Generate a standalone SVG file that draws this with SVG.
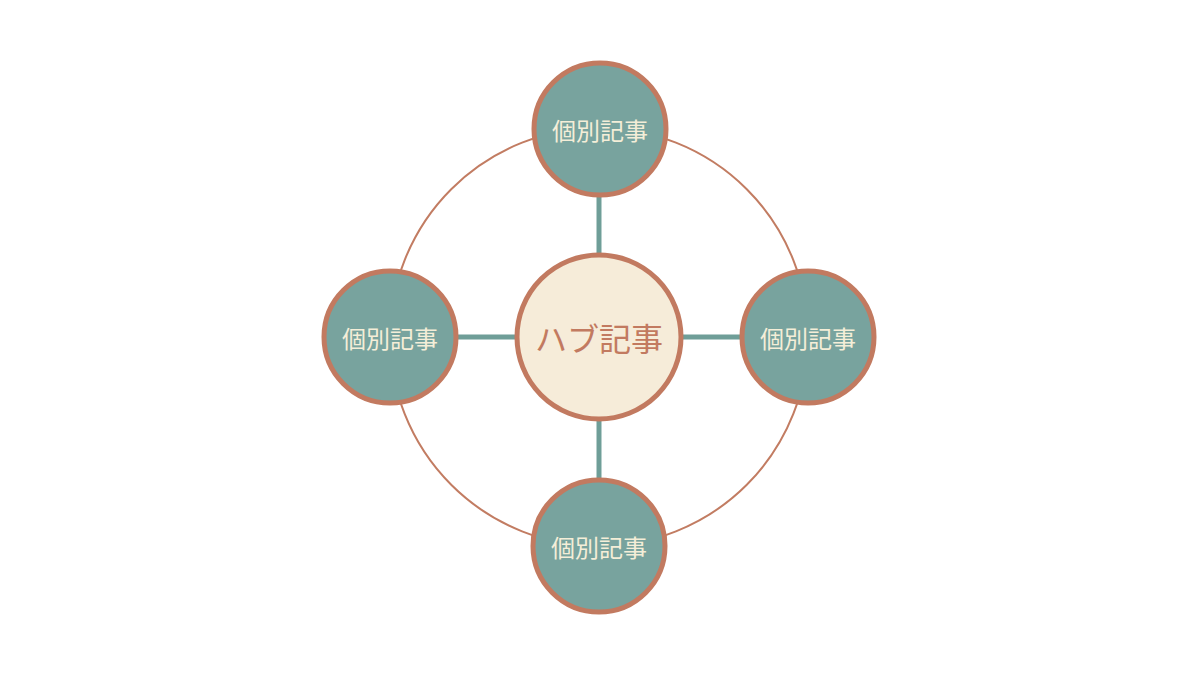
<svg xmlns="http://www.w3.org/2000/svg" width="1200" height="675" viewBox="0 0 1200 675">
<style>
.ring{fill:none;stroke:#c27c62;stroke-width:2}
.conn{stroke:#6f9e98;stroke-width:5;stroke-linecap:butt}
.leaf{fill:#78a39e;stroke:#c27a60;stroke-width:5}
.hub{fill:#f6ecd9;stroke:#c27a60;stroke-width:5}
.lt{font-family:"Noto Sans CJK JP","Noto Sans",sans-serif;font-size:24px;font-weight:400;fill:#f4eed8;text-anchor:middle;dominant-baseline:central}
.ht{font-family:"Noto Sans CJK JP","Noto Sans",sans-serif;font-size:32px;font-weight:400;fill:#c27a60;text-anchor:middle;dominant-baseline:central}
</style>
<rect width="1200" height="675" fill="#ffffff"/>
<circle class="ring" cx="599" cy="337" r="209"/>
<g id="connectors">
<line class="conn" x1="599" y1="190" x2="599" y2="258"/>
<line class="conn" x1="599" y1="418" x2="599" y2="485"/>
<line class="conn" x1="452" y1="337" x2="518" y2="337"/>
<line class="conn" x1="680" y1="337" x2="746" y2="337"/>
</g>
<g id="hub">
<circle class="hub" cx="599" cy="337" r="82"/>
<text class="ht" x="599" y="337">ハブ記事</text>
</g>
<g id="top">
<circle class="leaf" cx="600" cy="129" r="66"/>
<text class="lt" x="600" y="129">個別記事</text>
</g>
<g id="left">
<circle class="leaf" cx="390" cy="337" r="66"/>
<text class="lt" x="390" y="337">個別記事</text>
</g>
<g id="right">
<circle class="leaf" cx="808" cy="337" r="66"/>
<text class="lt" x="808" y="337">個別記事</text>
</g>
<g id="bottom">
<circle class="leaf" cx="599" cy="546" r="66"/>
<text class="lt" x="599" y="546">個別記事</text>
</g>
</svg>
